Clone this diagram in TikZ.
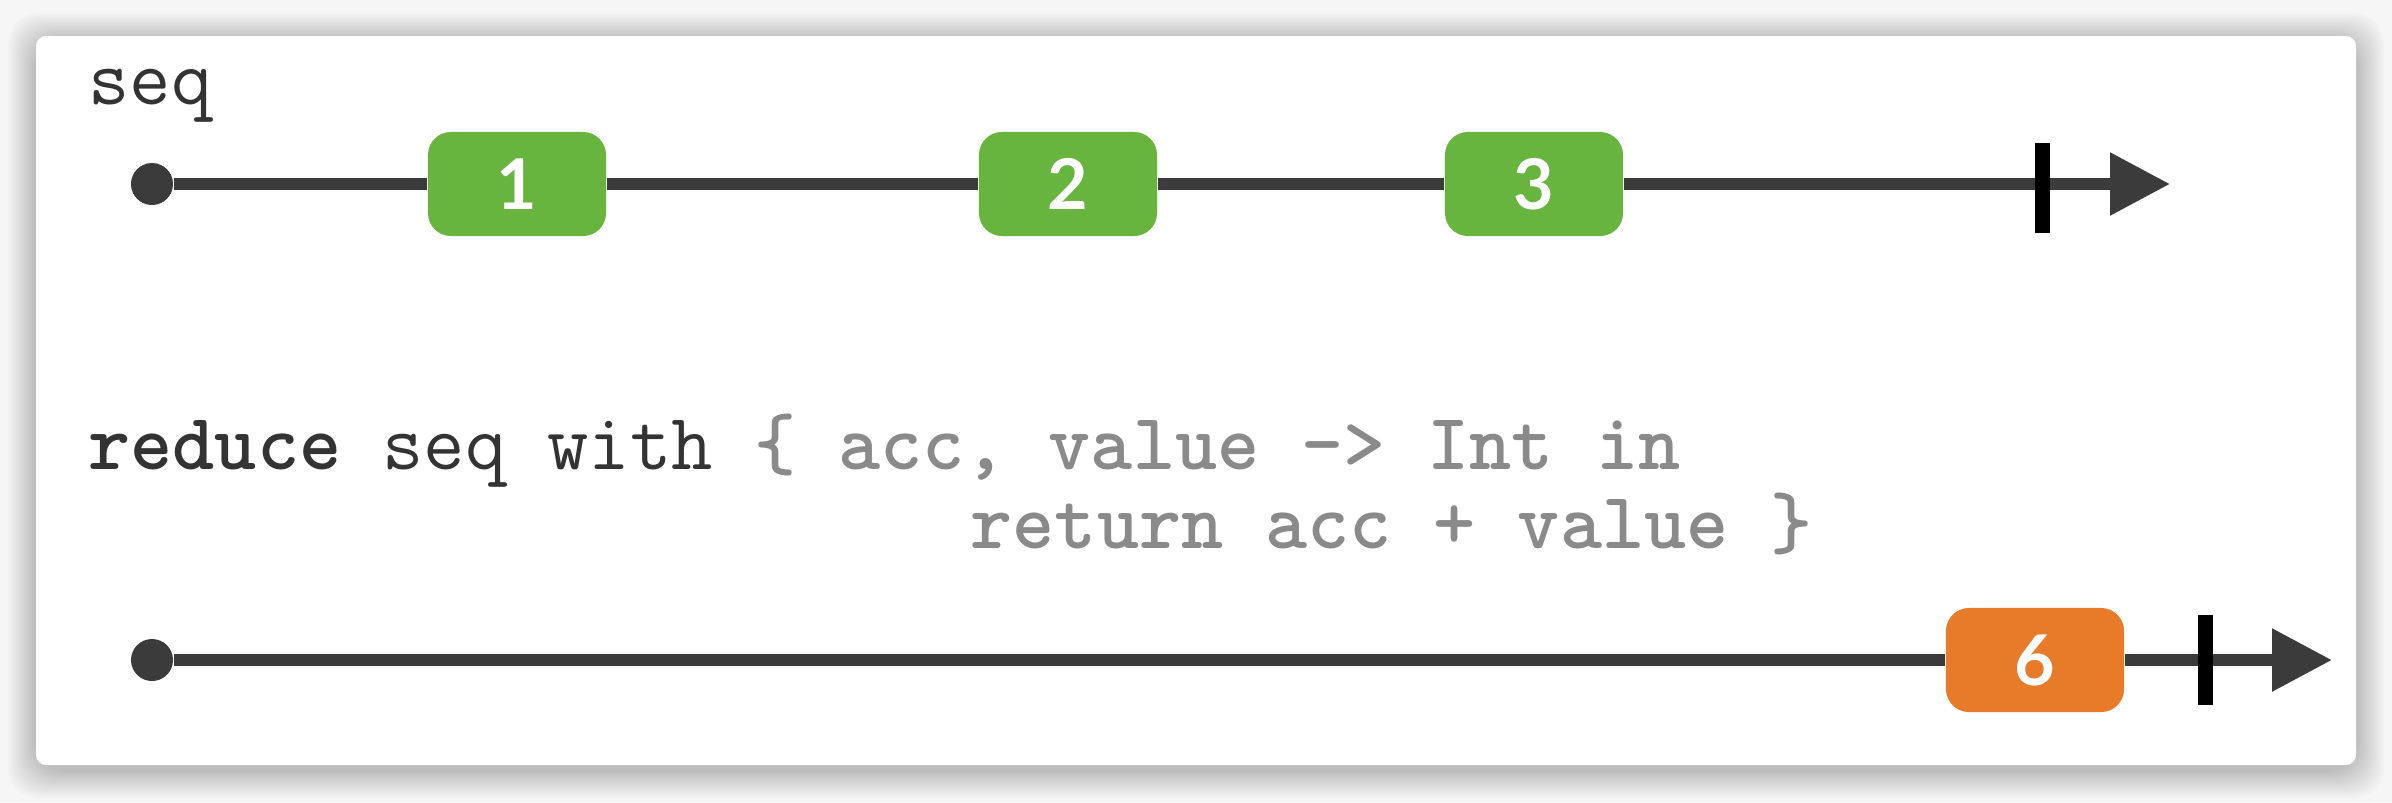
\documentclass[tikz,border=0pt]{standalone}
\usepackage{fontspec}
\usetikzlibrary{arrows.meta,positioning}
\newfontfamily\numfont{Lato}
\definecolor{linegray}{HTML}{3B3B3B}
\definecolor{itemgreen}{HTML}{67B43E}
\definecolor{itemorange}{HTML}{E87B2A}
\definecolor{codedark}{HTML}{333333}
\definecolor{codegray}{HTML}{8A8A8A}
\definecolor{pagegray}{HTML}{F6F6F6}

\begin{document}
\begin{tikzpicture}[x=0.01cm, y=-0.01cm, item/.style={rounded corners=0.23cm, minimum width=1.78cm, minimum height=1.04cm, inner sep=0, text=white, font=\numfont\bfseries\fontsize{19.9}{24}\selectfont}, startdot/.style={circle, fill=linegray, minimum size=0.42cm, inner sep=0}, endtick/.style={fill=black, minimum width=0.15cm, minimum height=0.89cm, inner sep=0}, tl/.style={draw=linegray, line width=0.12cm}, arr/.style={tl, -{Triangle[length=0.6cm, width=0.6cm]}}, code/.style={anchor=base west, inner sep=0, text=codedark, font=\ttfamily\fontsize{22.8}{27}\selectfont}]
\useasboundingbox (0,0) rectangle (2392,802);
% page and card with soft shadow
\fill[pagegray] (0,0) rectangle (2392,802);
\foreach \s in {1,...,14}
  \fill[black, opacity=0.016, rounded corners=0.3cm] ({36-2*\s},{41-2*\s}) rectangle ({2356+2*\s},{770+2*\s});
\fill[white, rounded corners=0.1cm] (36,36) rectangle (2356,765);

% source sequence
\node[code] (seqlabel) at (88,104) {seq};
\node[startdot] (dot1) at (152,184) {};
\node[item, fill=itemgreen] (n1) at (517,184) {1};
\node[item, fill=itemgreen] (n2) at (1068,184) {2};
\node[item, fill=itemgreen] (n3) at (1534,184) {3};
\coordinate (tip1) at (2170,184);
\draw[tl] (dot1) -- (n1);
\draw[tl] (n1) -- (n2);
\draw[tl] (n2) -- (n3);
\draw[arr] (n3) -- (tip1);
\node[endtick] (stop1) at (2042,188) {};

% operator
\node[code] (code1) at (88,469) {{\bfseries reduce} seq with {\color{codegray}\bfseries \{ acc, value -> Int in}};
\node[code, text=codegray] (code2) at (970,548) {\bfseries return acc + value \}};

% result sequence
\node[startdot] (dot2) at (152,660) {};
\node[item, fill=itemorange] (n6) at (2035,660) {6};
\coordinate (tip2) at (2332,660);
\draw[tl] (dot2) -- (n6);
\draw[arr] (n6) -- (tip2);
\node[endtick] (stop2) at (2205,660) {};
\end{tikzpicture}
\end{document}
